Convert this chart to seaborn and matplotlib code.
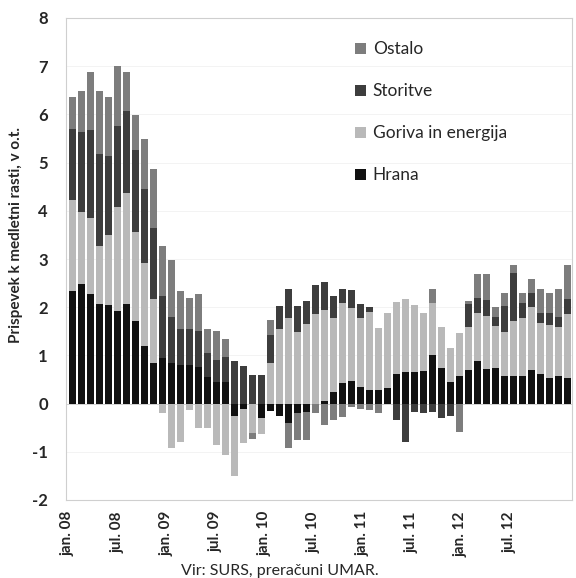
# Contributions to y/y inflation by component (stacked bars), jan.08 - aug.12

import numpy as np
import pandas as pd
import seaborn as sns
import matplotlib
matplotlib.use("Agg")
import matplotlib.pyplot as plt
from matplotlib.patches import Patch

# data (percentage points)
months = pd.date_range("2008-01-01", "2012-08-01", freq="MS")

hrana = [2.33, 2.49, 2.28, 2.07, 2.04, 1.92, 2.07, 1.71, 1.20, 0.84,
         0.95, 0.85, 0.80, 0.80, 0.75, 0.55, 0.45, 0.45, -0.26, -0.11,
         0.00, -0.30, -0.16, -0.26, -0.40, -0.19, -0.18, 0.00, 0.05, 0.24,
         0.43, 0.46, 0.35, 0.29, 0.29, 0.32, 0.62, 0.65, 0.65, 0.68,
         1.00, 0.74, 0.44, 0.57, 0.69, 0.88, 0.72, 0.74, 0.57, 0.57,
         0.57, 0.69, 0.62, 0.53, 0.57, 0.53]

goriva = [1.89, 1.49, 1.57, 1.21, 1.45, 2.16, 2.30, 1.84, 1.72, 1.32,
          -0.19, -0.92, -0.80, -0.14, -0.50, -0.50, -0.85, -1.06, -1.25, -0.71,
          -0.60, -0.34, 0.84, 1.54, 1.78, 1.48, 1.66, 1.85, 1.89, 1.54,
          1.66, 1.52, 1.43, 1.62, 1.27, 1.57, 1.48, 1.52, 1.40, 1.19,
          1.09, 0.85, 0.72, 0.90, 0.90, 1.01, 1.10, 0.88, 0.91, 1.14,
          1.21, 1.32, 1.05, 1.10, 1.02, 1.32]

storitve = [1.48, 1.65, 1.82, 1.90, 1.64, 1.67, 1.70, 1.72, 1.54, 1.49,
            1.28, 0.95, 0.75, 0.74, 0.75, 0.50, 0.45, 0.52, 0.88, 0.77,
            0.60, 0.60, 0.59, 0.49, 0.60, 0.55, 0.46, 0.62, 0.58, 0.45,
            0.29, 0.37, 0.29, 0.10, 0.00, 0.00, -0.33, -0.80, -0.17, -0.20,
            -0.18, -0.30, -0.26, 0.00, 0.48, 0.30, 0.33, 0.17, 0.55, 1.00,
            0.31, 0.29, 0.21, 0.25, 0.20, 0.32]

ostalo = [0.66, 0.86, 1.21, 1.31, 1.23, 1.25, 0.81, 0.71, 1.02, 1.22,
          1.03, 1.17, 0.78, 0.65, 0.78, 0.50, 0.60, 0.37, 0.00, 0.00,
          -0.13, 0.00, 0.31, 0.00, -0.52, -0.57, -0.58, -0.19, -0.45, -0.35,
          -0.28, -0.08, -0.11, -0.13, -0.19, 0.00, 0.00, 0.00, 0.00, 0.00,
          0.29, 0.00, 0.00, -0.59, 0.05, 0.49, 0.53, 0.21, 0.27, 0.17,
          0.21, 0.29, 0.50, 0.42, 0.59, 0.71]

tick_labels = ["jan. 08", "jul. 08", "jan. 09", "jul. 09", "jan. 10",
               "jul. 10", "jan. 11", "jul. 11", "jan. 12", "jul. 12"]

df = pd.DataFrame({"Hrana": hrana, "Goriva in energija": goriva,
                   "Storitve": storitve, "Ostalo": ostalo}, index=months)

colors = {"Hrana": "#111111", "Goriva in energija": "#b9b9b9",
          "Storitve": "#3d3d3d", "Ostalo": "#7d7d7d"}

sns.set_theme(style="white")
plt.rcParams["font.family"] = ["Lato", "DejaVu Sans"]

fig = plt.figure(figsize=(5.76, 5.78), dpi=100)
ax = fig.add_axes([66 / 576, 1 - 500 / 578, 506 / 576, 482 / 578])

x = np.arange(len(df))
pos_bottom = np.zeros(len(df))
neg_bottom = np.zeros(len(df))
for col in df.columns:
    v = df[col].to_numpy()
    bottom = np.where(v >= 0, pos_bottom, neg_bottom)
    ax.bar(x, v, bottom=bottom, width=0.78, color=colors[col], linewidth=0, zorder=3)
    pos_bottom += np.clip(v, 0, None)
    neg_bottom += np.clip(v, None, 0)

ax.axhline(0, color="#cccccc", linewidth=0.6, zorder=2)
for yv in range(-1, 8):
    ax.axhline(yv, color="#f1f1f1", linewidth=0.6, zorder=1)

ax.set_ylim(-2, 8)
ax.set_xlim(-0.67, len(df) - 0.5)
ax.set_yticks(range(-2, 9))
ax.set_yticklabels([str(v) for v in range(-2, 9)], fontsize=12, fontweight="bold")

# label positions follow the original chart's axis
tick_pos = np.arange(len(tick_labels)) * 5.45 - 0.45
ax.set_xticks(tick_pos)
ax.set_xticklabels(tick_labels, rotation=90, fontsize=11, fontweight="bold")
ax.tick_params(axis="x", length=0, pad=8)
ax.tick_params(axis="y", length=0, pad=13)

for s in ax.spines.values():
    s.set_color("#cfcfcf")
    s.set_linewidth(0.8)

ax.set_ylabel("Prispevek k medletni rasti, v o.t.", fontsize=11, fontweight="bold", labelpad=8)
ax.yaxis.set_label_coords(-0.085, 0.55)

order = ["Ostalo", "Storitve", "Goriva in energija", "Hrana"]
handles = [Patch(facecolor=colors[k], edgecolor="none", label=k) for k in order]
ax.legend(handles=handles, loc="upper left", bbox_to_anchor=(0.572, 0.952),
          frameon=False, fontsize=12.5, handlelength=0.6, handleheight=0.6,
          handletextpad=0.4, labelspacing=1.5, borderpad=0, borderaxespad=0)

fig.text(280 / 576, 1 - 571 / 578, "Vir: SURS, preračuni UMAR.", ha="center", va="center", fontsize=11.5)

fig.savefig("out.png", dpi=100)
